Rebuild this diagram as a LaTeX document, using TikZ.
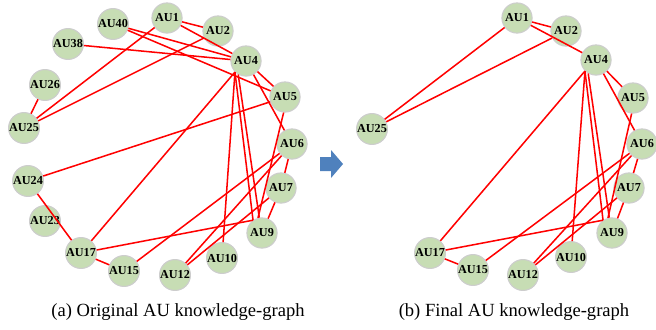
\documentclass[tikz,border=0pt]{standalone}
\usepackage{fontspec}
\setmainfont{Liberation Serif}
\usetikzlibrary{arrows.meta, positioning}
\definecolor{auGreen}{RGB}{199,221,180}
\definecolor{auRim}{RGB}{205,205,205}
\definecolor{flowBlue}{RGB}{79,129,189}

\begin{document}
\begin{tikzpicture}[x=0.0265cm, y=-0.0265cm]
        % Estilos para los nodos AU y las aristas
        \tikzstyle{au} = [draw=auRim, line width=0.8pt, fill=auGreen, circle, minimum size=0.8cm, inner sep=0pt, font=\bfseries\fontsize{9.2}{10}\selectfont]
        \tikzstyle{edge} = [draw=red, line width=1.15pt]
        \tikzstyle{caption} = [font=\fontsize{14}{16}\selectfont]
        \useasboundingbox (0,0) rectangle (656,329);
       % Nodes (a) original graph
       \node[au] (a1) at (167,18) {AU1};
       \node[au] (a2) at (218,31) {AU2};
       \node[au] (a40) at (113,24) {AU40};
       \node[au] (a38) at (68,44) {AU38};
       \node[au] (a4) at (246,61) {AU4};
       \node[au] (a26) at (45,85) {AU26};
       \node[au] (a5) at (285,97) {AU5};
       \node[au] (a25) at (24,128) {AU25};
       \node[au] (a6) at (292,144) {AU6};
       \node[au] (a24) at (28,181) {AU24};
       \node[au] (a7) at (281,188) {AU7};
       \node[au] (a23) at (45,221) {AU23};
       \node[au] (a9) at (262,233) {AU9};
       \node[au] (a17) at (81,253) {AU17};
       \node[au] (a10) at (222,258) {AU10};
       \node[au] (a15) at (124,271) {AU15};
       \node[au] (a12) at (175,275) {AU12};
       % Nodes (b) final graph
       \node[au] (b1) at (517,18) {AU1};
       \node[au] (b2) at (566,31) {AU2};
       \node[au] (b4) at (596,60) {AU4};
       \node[au] (b5) at (633,98) {AU5};
       \node[au] (b25) at (372,129) {AU25};
       \node[au] (b6) at (642,144) {AU6};
       \node[au] (b7) at (629,188) {AU7};
       \node[au] (b9) at (612,233) {AU9};
       \node[au] (b17) at (430,253) {AU17};
       \node[au] (b10) at (571,257) {AU10};
       \node[au] (b15) at (473,270) {AU15};
       \node[au] (b12) at (523,275) {AU12};
       % Connections (a)
       \draw[edge] (a1) -- (a2);
       \draw[edge] (a1) -- (a4);
       \draw[edge] (a1) -- (a25);
       \draw[edge] (a2) -- (a25);
       \draw[edge] (a40) -- (a4);
       \draw[edge] (a40) -- (a5);
       \draw[edge] (a38) -- (a4);
       \draw[edge] (a26) -- (a25);
       \draw[edge] (a4) -- (a5);
       \draw[edge] (a4) -- (a6);
       \draw[edge] (a4.225) -- (a17);
       \draw[edge] (a4.225) -- (a10);
       \draw[edge] (a4.225) -- (a9.125);
       \draw[edge] (a4.240) -- (a9.100);
       \draw[edge] (a5) -- (a24);
       \draw[edge] (a5.265) -- (a9.105);
       \draw[edge] (a6) -- (a7);
       \draw[edge] (a6) -- (a15);
       \draw[edge] (a6) -- (a12);
       \draw[edge] (a7) -- (a9);
       \draw[edge] (a7) -- (a12);
       \draw[edge] (a24) -- (a17);
       \draw[edge] (a17) -- (a15);
       \draw[edge] (a17) -- (a9.125);
       % Connections (b)
       \draw[edge] (b1) -- (b2);
       \draw[edge] (b1) -- (b4);
       \draw[edge] (b1) -- (b25);
       \draw[edge] (b2) -- (b25);
       \draw[edge] (b4) -- (b5);
       \draw[edge] (b4) -- (b6);
       \draw[edge] (b4.225) -- (b17);
       \draw[edge] (b4.225) -- (b10);
       \draw[edge] (b4.225) -- (b9.125);
       \draw[edge] (b4.240) -- (b9.100);
       \draw[edge] (b5.265) -- (b9.105);
       \draw[edge] (b6) -- (b7);
       \draw[edge] (b6) -- (b15);
       \draw[edge] (b6) -- (b12);
       \draw[edge] (b7) -- (b9);
       \draw[edge] (b7) -- (b12);
       \draw[edge] (b17) -- (b15);
       \draw[edge] (b17) -- (b9.125);
       % Flecha entre los dos grafos
       \fill[flowBlue] (320,157) -- (331,157) -- (331,150) -- (343,164) -- (331,178) -- (331,171) -- (320,171) -- cycle;
       % Captions
       \node[caption] (capA) at (178,312) {(a) Original AU knowledge-graph};
       \node[caption] (capB) at (514,312) {(b) Final AU knowledge-graph};
      \end{tikzpicture}
\end{document}
